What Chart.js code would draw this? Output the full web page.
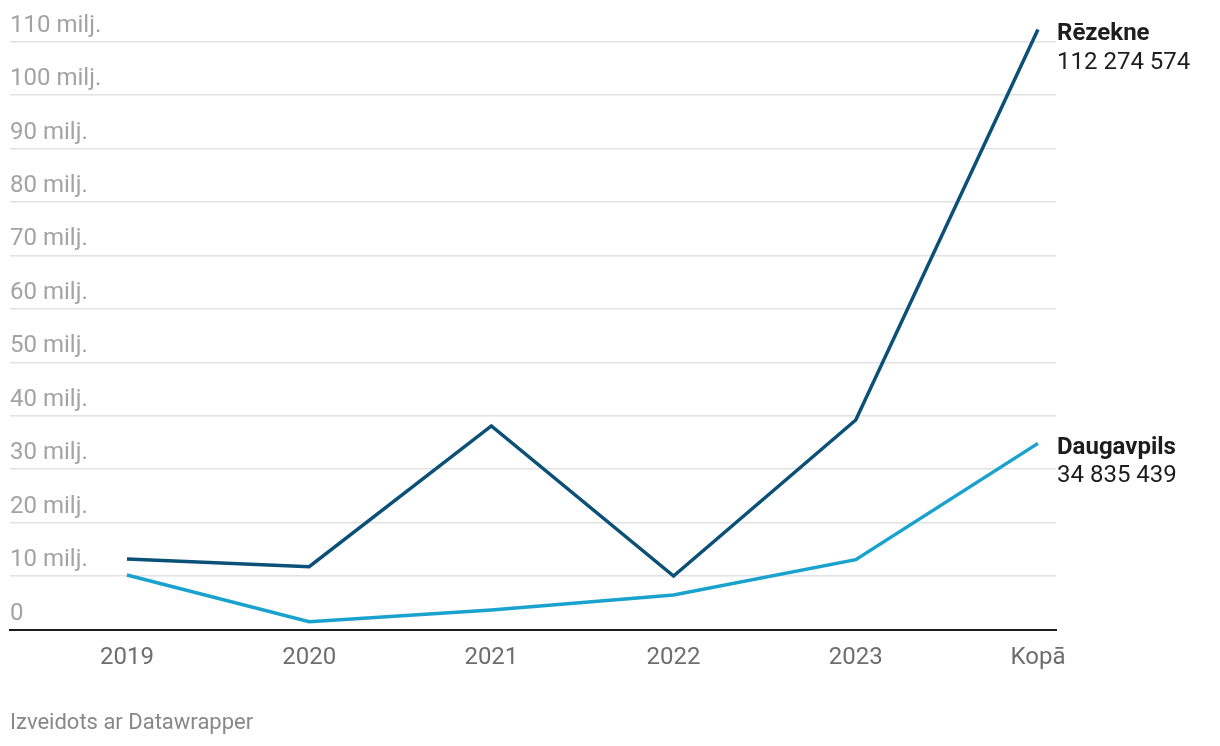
<!DOCTYPE html>
<html>
<head>
<meta charset="utf-8">
<script src="https://cdn.jsdelivr.net/npm/chart.js@4"></script>
<style>
  html, body { margin: 0; padding: 0; background: #fff; }
  #wrap { position: relative; width: 1220px; height: 746px; }
  #credit { position: absolute; left: 10px; top: 709px; font: 22px Roboto, sans-serif; color: #888; line-height: 26px; }
</style>
</head>
<body>
<div id="wrap">
  <canvas id="chart" width="1220" height="746"></canvas>
  <div id="credit">Izveidots ar Datawrapper</div>
</div>
<script>
// --- dati ---
const categories = ["2019", "2020", "2021", "2022", "2023", "Kopā"];
const rezekne = [13.2, 11.75, 38.1, 10.0, 39.2, 112.274574];
const daugavpils = [10.2, 1.46, 3.65, 6.46, 13.07, 34.835439];
const yTicks = [0, 10, 20, 30, 40, 50, 60, 70, 80, 90, 100, 110];
const endLabels = ["112 274 574", "34 835 439"];

const toPoints = arr => arr.map((v, i) => ({ x: i, y: v }));

// nosaukumi + vērtības pie līniju galiem
const endLabelPlugin = {
  id: "endLabels",
  afterDatasetsDraw(chart) {
    const ctx = chart.ctx;
    chart.data.datasets.forEach((ds, i) => {
      const meta = chart.getDatasetMeta(i);
      const pt = meta.data[meta.data.length - 1];
      const x = chart.chartArea.right + 1;
      ctx.save();
      ctx.fillStyle = "#1d1d1d";
      ctx.textAlign = "left";
      ctx.textBaseline = "middle";
      ctx.font = "bold 24px Roboto, sans-serif";
      ctx.fillText(ds.label, x, pt.y + 4.5);
      ctx.font = "24px Roboto, sans-serif";
      ctx.fillText(endLabels[i], x, pt.y + 33);
      ctx.restore();
    });
  }
};

new Chart(document.getElementById("chart"), {
  type: "line",
  data: {
    datasets: [
      { label: "Rēzekne", data: toPoints(rezekne), borderColor: "#0b5077", borderWidth: 3.5, pointRadius: 0, tension: 0 },
      { label: "Daugavpils", data: toPoints(daugavpils), borderColor: "#19a2cd", borderWidth: 3.5, pointRadius: 0, tension: 0 }
    ]
  },
  options: {
    responsive: false,
    animation: false,
    layout: { padding: { left: 10, right: 164, top: 15, bottom: 56.5 } },
    plugins: { legend: { display: false }, tooltip: { enabled: false } },
    scales: {
      x: {
        type: "linear",
        min: -0.642,
        max: 5.099,
        afterBuildTicks: s => { s.ticks = categories.map((c, i) => ({ value: i })); },
        afterFit: s => { s.height = 60; },
        grid: { display: false, drawTicks: false },
        border: { display: true, color: "#1d1d1d", width: 2 },
        ticks: {
          autoSkip: false,
          maxRotation: 0,
          padding: 14,
          color: "#6e6e6e",
          font: { family: "Roboto", size: 24 },
          callback: v => categories[v]
        }
      },
      y: {
        min: 0,
        max: 115,
        afterBuildTicks: s => { s.ticks = yTicks.map(v => ({ value: v })); },
        afterFit: s => { s.width = 0; },
        grid: { color: "#e2e2e2", lineWidth: 1.5, drawTicks: false },
        border: { display: false },
        ticks: {
          mirror: true,
          padding: 0,
          labelOffset: -16,
          color: "#a3a3a3",
          font: { family: "Roboto", size: 24 },
          callback: v => v === 0 ? "0" : v + " milj."
        }
      }
    }
  },
  plugins: [endLabelPlugin]
});
</script>
</body>
</html>
